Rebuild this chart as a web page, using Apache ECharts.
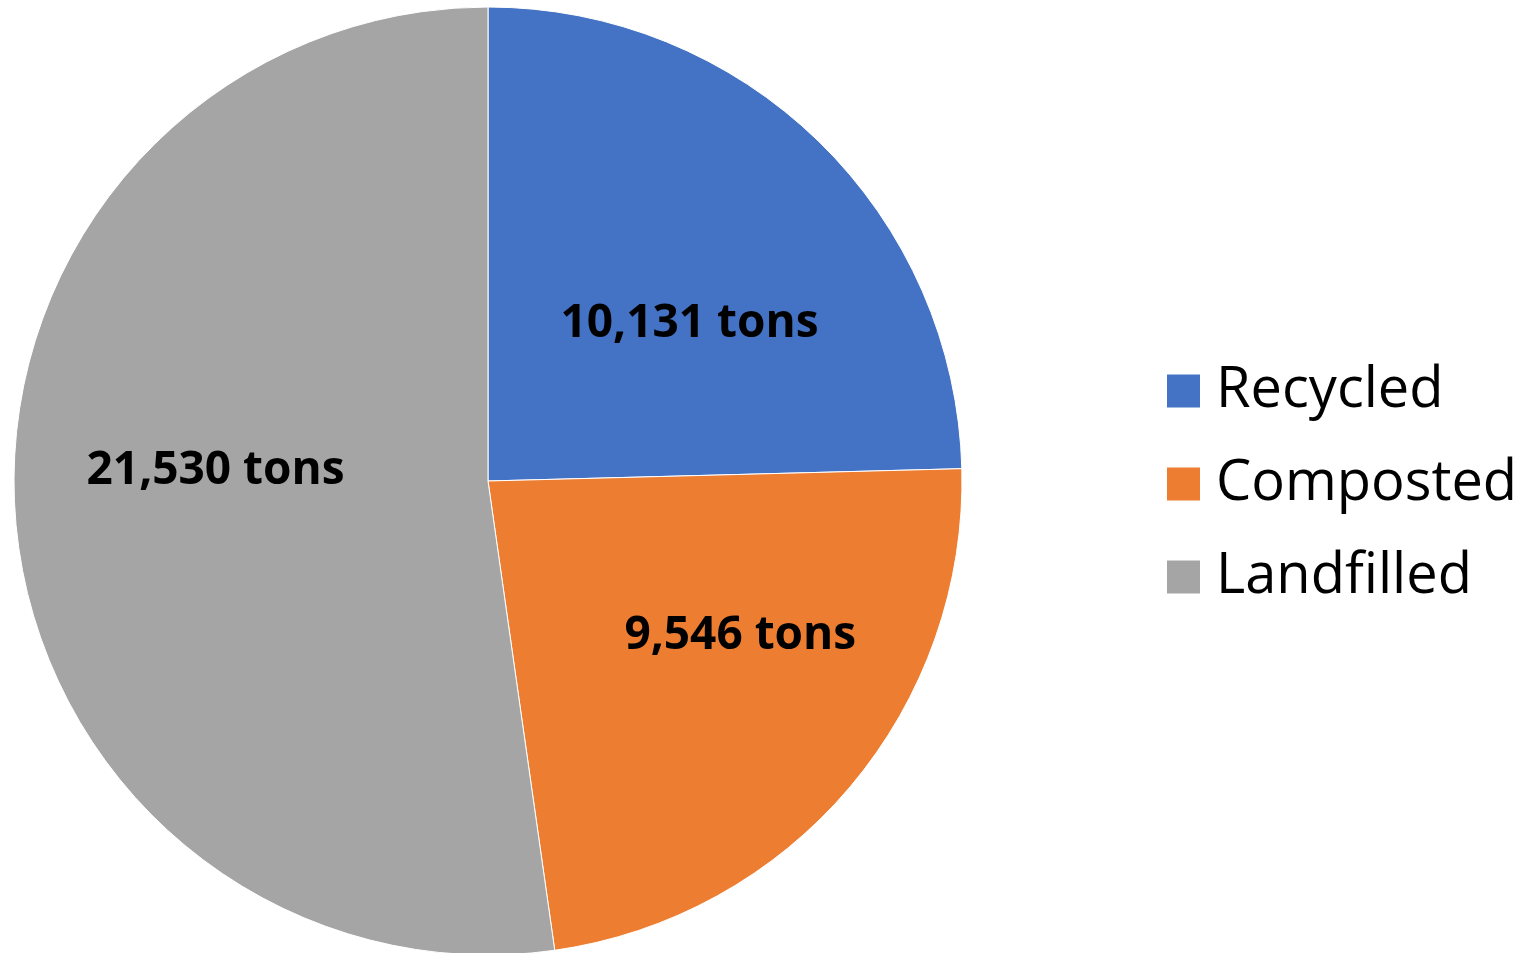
<!DOCTYPE html>
<html>
<head>
<meta charset="utf-8">
<script src="https://cdn.jsdelivr.net/npm/echarts@6/dist/echarts.min.js"></script>
<style>
html,body{margin:0;padding:0;background:#fff;}
#chart{width:1521px;height:953px;}
</style>
</head>
<body>
<div id="chart"></div>
<script>
const categories = ['Recycled', 'Composted', 'Landfilled'];
const values = [10131, 9546, 21530];
const colors = ['#4472C4', '#ED7D31', '#A5A5A5'];

// label nudges (style), per slice
const labelNudge = [[34, 15], [69, 0], [-33, -27]];

const chart = echarts.init(document.getElementById('chart'));
chart.setOption({
  animation: false,
  color: colors,
  legend: {
    orient: 'vertical',
    left: 1160,
    top: 358,
    icon: 'rect',
    itemWidth: 35,
    itemHeight: 35,
    itemGap: 37,
    textStyle: { fontFamily: 'Open Sans', fontSize: 56, lineHeight: 56, color: '#000', padding: [0, 0, 0, 10] },
    data: categories
  },
  series: [{
    type: 'pie',
    center: [488, 481],
    radius: 474,
    startAngle: 90,
    clockwise: true,
    itemStyle: { borderColor: '#fff', borderWidth: 1 },
    label: {
      show: true,
      position: 'inside',
      fontFamily: 'Open Sans',
      fontWeight: 'bold',
      fontSize: 46,
      color: '#000',
      formatter: p => p.value.toLocaleString('en-US') + ' tons'
    },
    labelLine: { show: false },
    labelLayout: p => ({ dx: labelNudge[p.dataIndex][0], dy: labelNudge[p.dataIndex][1] }),
    emphasis: { disabled: true },
    data: categories.map((c, i) => ({ name: c, value: values[i] }))
  }]
});
</script>
</body>
</html>
